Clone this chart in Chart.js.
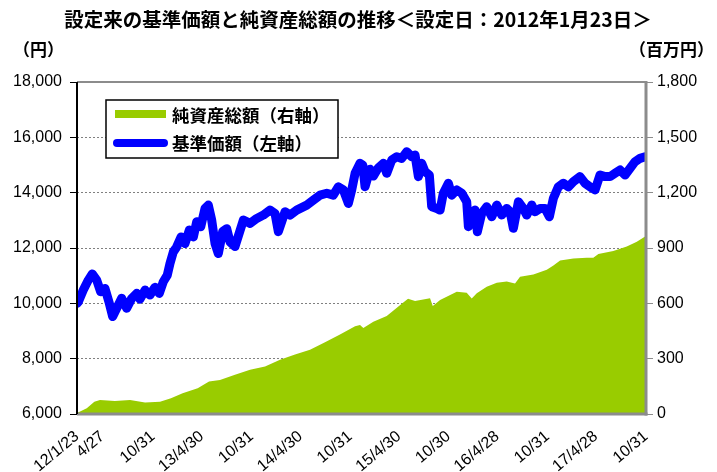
<!DOCTYPE html>
<html><head><meta charset="utf-8">
<script src="https://cdn.jsdelivr.net/npm/chart.js@4.4.0/dist/chart.umd.min.js"></script>
<style>html,body{margin:0;padding:0;background:#fff}canvas{display:block}</style>
</head><body>
<canvas id="c" width="717" height="472"></canvas>
<script>
const titleText = '設定来の基準価額と純資産総額の推移＜設定日：2012年1月23日＞';
const leftUnit = '（円）';
const rightUnit = '（百万円）';
const navLabel = '基準価額（左軸）';
const assetLabel = '純資産総額（右軸）';

const tickDates = ['2012-01-23','2012-04-27','2012-10-31','2013-04-30','2013-10-31','2014-04-30','2014-10-31','2015-04-30','2015-10-30','2016-04-28','2016-10-31','2017-04-28','2017-10-31'];
const tickLabels = ['12/1/23','4/27','10/31','13/4/30','10/31','14/4/30','10/31','15/4/30','10/30','16/4/28','10/31','17/4/28','10/31'];

// 基準価額 (yen) — x in decimal years
const navYears = [2012.060,2012.073,2012.124,2012.175,2012.215,2012.260,2012.300,2012.344,2012.388,2012.422,2012.463,2012.513,2012.564,2012.615,2012.666,2012.699,2012.750,2012.800,2012.851,2012.895,2012.935,2012.976,2013.003,2013.037,2013.071,2013.115,2013.155,2013.199,2013.240,2013.274,2013.315,2013.358,2013.392,2013.426,2013.460,2013.493,2013.538,2013.578,2013.612,2013.662,2013.747,2013.815,2013.883,2013.950,2014.017,2014.068,2014.102,2014.170,2014.220,2014.288,2014.390,2014.457,2014.525,2014.593,2014.659,2014.710,2014.761,2014.812,2014.846,2014.880,2014.930,2014.958,2014.981,2015.032,2015.065,2015.116,2015.167,2015.201,2015.252,2015.302,2015.353,2015.404,2015.455,2015.488,2015.522,2015.556,2015.589,2015.633,2015.657,2015.708,2015.742,2015.775,2015.826,2015.860,2015.911,2015.962,2016.012,2016.029,2016.063,2016.097,2016.120,2016.164,2016.215,2016.266,2016.317,2016.367,2016.418,2016.452,2016.485,2016.536,2016.586,2016.621,2016.672,2016.705,2016.756,2016.806,2016.850,2016.891,2016.941,2016.992,2017.043,2017.094,2017.161,2017.212,2017.263,2017.314,2017.364,2017.415,2017.466,2017.516,2017.567,2017.618,2017.669,2017.719,2017.770,2017.821];
const navValues = [10000,10050,10480,10840,11060,10840,10420,10540,10000,9520,9820,10180,9820,10180,10360,10150,10480,10300,10580,10360,10780,11020,11440,11860,12040,12400,12160,12650,12400,12950,12770,13430,13550,13010,12160,11800,12600,12700,12220,12050,13010,12890,13070,13190,13370,13250,12590,13310,13190,13370,13550,13730,13910,13980,13910,14210,14100,13610,14100,14700,15060,15000,14210,14850,14600,14900,15060,14700,15180,15300,15240,15480,15300,15360,14580,15060,14760,14640,13490,13430,13370,13980,14340,13910,14100,13980,13670,12770,13130,13370,12590,13250,13490,13130,13550,13190,13430,13310,12710,13670,13430,13190,13550,13310,13430,13430,13130,13800,14210,14340,14210,14400,14580,14340,14210,14100,14640,14580,14580,14700,14820,14640,14880,15120,15240,15300];

// 純資産総額 (million yen)
const assetYears = [2012.060,2012.159,2012.236,2012.293,2012.445,2012.598,2012.750,2012.902,2013.013,2013.131,2013.284,2013.399,2013.510,2013.662,2013.815,2013.967,2014.119,2014.271,2014.423,2014.575,2014.727,2014.880,2014.930,2014.964,2015.065,2015.201,2015.369,2015.417,2015.488,2015.640,2015.668,2015.742,2015.911,2016.012,2016.063,2016.114,2016.215,2016.317,2016.418,2016.502,2016.553,2016.688,2016.824,2016.891,2016.959,2017.094,2017.229,2017.296,2017.347,2017.499,2017.635,2017.737,2017.821,2017.830];
const assetValues = [5,31,67,76,71,76,62,67,85,113,140,176,185,213,240,258,294,322,349,389,431,476,482,466,500,532,605,625,612,627,586,618,663,658,626,655,690,712,718,708,744,757,782,805,832,843,847,847,868,884,908,934,962,968];

const leftMin = 6000, leftMax = 18000, leftStep = 2000;
const rightMin = 0, rightMax = 1800, rightStep = 300;

function toYear(s){
  const [y,m,d] = s.split('-').map(Number);
  const a = Date.UTC(y,0,1), b = Date.UTC(y+1,0,1);
  return y + (Date.UTC(y,m-1,d) - a) / (b - a);
}
const tickYears = tickDates.map(toYear);

const BLUE = '#0000FF', GREEN = '#99CC00';
const jp = '"Noto Sans CJK JP", "Noto Sans", sans-serif';
const numFont = {family: '"Liberation Sans", Arial, sans-serif', size: 16};

const decor = {
  id: 'decor',
  afterDatasetsDraw(chart){
    const {ctx, chartArea: a} = chart;
    const ln = (x1,y1,x2,y2)=>{ctx.beginPath();ctx.moveTo(x1,y1);ctx.lineTo(x2,y2);ctx.stroke();};
    ctx.save();
    ctx.strokeStyle = '#8c8c8c';
    ctx.lineWidth = 2; ln(a.left, a.top, a.right, a.top);
    ctx.lineWidth = 3; ln(a.right, a.top - 1, a.right, a.bottom + 1.5);
    ln(a.left, a.bottom, a.right + 1.5, a.bottom);
    ctx.strokeStyle = '#000'; ctx.lineWidth = 2; ln(a.left, a.top, a.left, a.bottom);
    // legend box
    const bx = a.left + 29, by = a.top + 18, bw = 232, bh = 58;
    ctx.fillStyle = '#fff'; ctx.fillRect(bx, by, bw, bh);
    ctx.strokeStyle = '#000'; ctx.lineWidth = 1.5; ctx.strokeRect(bx, by, bw, bh);
    ctx.fillStyle = GREEN; ctx.fillRect(bx + 9, by + 10, 51, 8);
    ctx.strokeStyle = BLUE; ctx.lineWidth = 8; ctx.lineCap = 'round';
    ln(bx + 11, by + 43, bx + 58, by + 43);
    ctx.fillStyle = '#000'; ctx.font = 'bold 17.5px ' + jp; ctx.textBaseline = 'middle'; ctx.textAlign = 'left';
    ctx.fillText(assetLabel, bx + 66, by + 15);
    ctx.fillText(navLabel, bx + 66, by + 43);
    ctx.restore();
  },
  afterDraw(chart){
    const {ctx} = chart;
    ctx.save();
    ctx.fillStyle = '#000'; ctx.textBaseline = 'middle';
    ctx.font = 'bold 19.5px ' + jp; ctx.textAlign = 'center';
    ctx.fillText(titleText, 358, 20);
    ctx.font = 'bold 17px ' + jp; ctx.textAlign = 'left';
    ctx.fillText(leftUnit, 13, 50);
    ctx.textAlign = 'right';
    ctx.fillText(rightUnit, 714, 50);
    ctx.restore();
  }
};

new Chart(document.getElementById('c'), {
  type: 'line',
  data: {
    datasets: [
      {label: navLabel, data: navYears.map((x,i)=>({x, y: navValues[i]})), yAxisID: 'y', borderColor: BLUE, backgroundColor: BLUE, borderWidth: 9, pointRadius: 0, tension: 0, borderJoinStyle: 'round', borderCapStyle: 'round', fill: false, order: 0},
      {label: assetLabel, data: assetYears.map((x,i)=>({x, y: assetValues[i]})), yAxisID: 'y2', borderColor: GREEN, backgroundColor: GREEN, borderWidth: 0, pointRadius: 0, tension: 0, fill: 'origin', order: 1}
    ]
  },
  options: {
    responsive: false, animation: false, devicePixelRatio: 1,
    layout: {padding: {top: 82, left: 0, right: 0, bottom: 0}},
    plugins: {legend: {display: false}, title: {display: false}, tooltip: {enabled: false}},
    scales: {
      x: {
        type: 'linear', min: tickYears[0], max: tickYears[tickYears.length-1],
        afterBuildTicks: s => { s.ticks = tickYears.map(v => ({value: v})); },
        afterFit: s => { s.height = 58; },
        grid: {display: false}, border: {display: false},
        ticks: {autoSkip: false, minRotation: 40, maxRotation: 40, padding: 5, color: '#000', font: numFont,
          callback: (v, i) => tickLabels[i]}
      },
      y: {
        position: 'left', min: leftMin, max: leftMax,
        afterFit: s => { s.width = 77; },
        grid: {color: '#808080', lineWidth: 1, tickLength: 7, tickColor: '#000', tickBorderDash: []},
        border: {display: false, dash: [2, 2]},
        ticks: {stepSize: leftStep, padding: 8, color: '#000', font: numFont, callback: v => v.toLocaleString('en-US')}
      },
      y2: {
        position: 'right', min: rightMin, max: rightMax,
        afterFit: s => { s.width = 71; },
        grid: {drawOnChartArea: false, tickLength: 7, color: '#8c8c8c'},
        border: {display: false},
        ticks: {stepSize: rightStep, padding: 4, color: '#000', font: numFont, callback: v => v.toLocaleString('en-US')}
      }
    }
  },
  plugins: [decor]
});
</script>
</body></html>
